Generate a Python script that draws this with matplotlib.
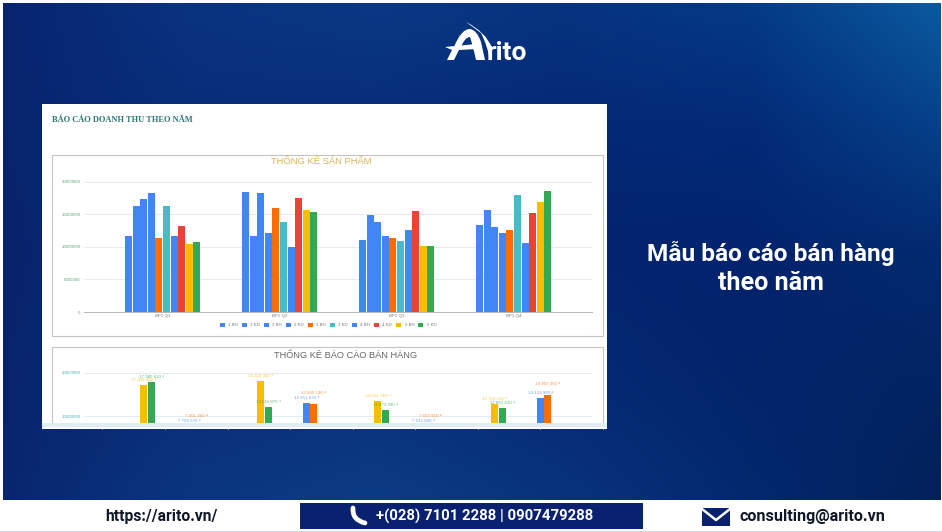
import numpy as np
import matplotlib
matplotlib.use("Agg")
import matplotlib.pyplot as plt
from matplotlib.colors import to_rgb
from matplotlib.patches import Rectangle, PathPatch, Polygon
from matplotlib.path import Path

W, H = 942, 532

# Revenue per quarter for each product series
quarters = ["BP1 Q1", "BP1 Q2", "BP1 Q3", "BP1 Q4"]
series_names = ["1 BH", "1 KD", "2 BH", "2 KD", "3 BH", "3 KD", "4 BH", "4 KD", "5 BH", "5 KD"]
series_colors = ["#4285f4", "#4285f4", "#4285f4", "#4285f4", "#ff6d01",
                 "#46bdc6", "#4285f4", "#ea4335", "#fbbc04", "#34a853"]
q1_values = [11.63, 16.22, 17.30, 18.30, 11.30, 16.30, 11.70, 13.20, 10.40, 10.70]
q2_values = [18.40, 11.70, 18.20, 12.10, 15.90, 13.80, 10.00, 17.50, 15.70, 15.40]
q3_values = [11.10, 14.90, 13.80, 11.70, 11.40, 10.90, 12.50, 15.50, 10.05, 10.05]
q4_values = [13.30, 15.60, 13.00, 12.10, 12.50, 17.90, 10.50, 15.20, 16.80, 18.50]
product_ticks = [0, 5000000, 10000000, 15000000, 20000000]

# Sales report series, one value per quarter
sales_yellow = [17209450, 18218300, 13562740, 12704120]
sales_green = [17985620, 12011870, 11473390, 11862410]
sales_blue = [7704570, 12951630, 7612840, 14123980]
sales_orange = [7451260, 12805740, 7503910, 14907350]
sales_ticks = [10000000, 20000000]

# Banner text
heading_lines = ["Mẫu báo cáo bán hàng", "theo năm"]
website = "https://arito.vn/"
phone = "+(028) 7101 2288 | 0907479288"
email = "consulting@arito.vn"

NAVY = "#0a2170"
plt.rcParams["font.family"] = ["Liberation Sans", "DejaVu Sans"]

fig = plt.figure(figsize=(W / 100, H / 100), dpi=100, facecolor="white")


def axes_px(left, top, right, bottom, **kw):
    """Axes placed by pixel edges, measured from the top-left corner."""
    return fig.add_axes([left / W, 1 - bottom / H, (right - left) / W, (bottom - top) / H], **kw)


def fitted_text(ax, x0, x1, y, s, **kw):
    """Centre a string between two x pixels, choosing the font size that spans them."""
    t = ax.text((x0 + x1) / 2, y, s, ha="center", va="center", fontsize=10, **kw)
    width = t.get_window_extent(fig.canvas.get_renderer()).width
    t.set_fontsize(10 * (x1 - x0) / width)
    return t


def smooth_gradient(colors, rows=250, cols=470):
    """Expand a coarse colour grid, whose nodes lie on the edges, into a fine image."""
    grid = np.array([[to_rgb(c) for c in row] for row in colors])
    r_nodes = np.linspace(0, 1, grid.shape[0])
    c_nodes = np.linspace(0, 1, grid.shape[1])
    r_fine = np.linspace(0, 1, rows)
    c_fine = np.linspace(0, 1, cols)
    by_col = np.stack([[np.interp(c_fine, c_nodes, row[:, k]) for row in grid] for k in range(3)], axis=-1)
    return np.stack([[np.interp(r_fine, r_nodes, by_col[:, j, k]) for j in range(cols)]
                     for k in range(3)], axis=-1).transpose(1, 0, 2)


# Full-slide layer in pixel coordinates for background and decorations
deco = axes_px(0, 0, W, H)
deco.axis("off")

grad = [["#07246f", "#0a3380", "#0a3884", "#06337f", "#043a86", "#0a5a9f"],
        ["#07246e", "#082d79", "#072c78", "#042876", "#032a77", "#054088"],
        ["#07236c", "#082a74", "#072973", "#03246f", "#02236d", "#032a70"],
        ["#08246e", "#0a2e77", "#0a317a", "#052a74", "#02246b", "#032462"],
        ["#08266f", "#0a367f", "#0b3b84", "#08337c", "#03286e", "#03215a"]]
deco.imshow(smooth_gradient(grad), extent=(3, 941, 500, 3), interpolation="bilinear", aspect="auto", zorder=0)
deco.set_xlim(0, W)
deco.set_ylim(H, 0)

# Report sheet
deco.add_patch(Rectangle((42, 104), 565, 325, fc="white", ec="none", zorder=1))
fitted_text(deco, 52, 192, 119.5, "BÁO CÁO DOANH THU THEO NĂM", family="Liberation Serif", weight="bold",
            color="#2f7577", zorder=3)
deco.add_patch(Rectangle((52, 155), 551, 181, fc="none", ec="#c4c4c4", lw=0.8, zorder=2))
deco.plot([52, 52, 603, 603], [423, 347, 347, 423], color="#c4c4c4", lw=0.8, zorder=2)
fitted_text(deco, 271, 371, 162, "THỐNG KÊ SẢN PHẨM", color="#d6b54e", zorder=3)
fitted_text(deco, 274, 418, 355.5, "THỐNG KÊ BÁO CÁO BÁN HÀNG", color="#666666", zorder=3)

# Spreadsheet row strip at the foot of the sheet
deco.add_patch(Rectangle((42, 423), 565, 3.5, fc="#e0ecf6", ec="none", zorder=2))
for x in (102, 165, 228, 290, 353, 415, 478, 540, 603):
    deco.plot([x, x], [426.5, 429], color="#ececec", lw=0.5, zorder=2)

# Grouped bars of the product chart
slot = 7.53 / 117
bar_w = 7.0 / 117
ax1 = axes_px(84, 181.5, 592, 312, facecolor="none")
ax1.set_xlim(-0.673, 3.669)
ax1.set_ylim(0, 20000000)
x_pos = np.arange(len(quarters))
for i, (name, color) in enumerate(zip(series_names, series_colors)):
    vals = np.array([q1_values[i], q2_values[i], q3_values[i], q4_values[i]]) * 1e6
    ax1.bar(x_pos + (i - 4.5) * slot, vals, bar_w, color=color, label=name, zorder=3)
ax1.set_xticks(x_pos, quarters)
ax1.set_yticks(product_ticks, [str(t) for t in product_ticks])
ax1.tick_params(axis="x", length=0, labelsize=3.2, labelcolor="#777777", pad=1.5)
ax1.tick_params(axis="y", length=0, labelsize=3.2, labelcolor="#5fa87c", pad=2.5)
ax1.grid(axis="y", color="#e6e6e6", lw=0.6, zorder=0)
for side in ("top", "right", "left"):
    ax1.spines[side].set_visible(False)
ax1.spines["bottom"].set_color("#b5b5b5")
ax1.spines["bottom"].set_linewidth(0.7)
ax1.legend(loc="center", bbox_to_anchor=(328 / W, 1 - 325 / H), bbox_transform=fig.transFigure,
           ncol=10, frameon=False, fontsize=3.2, labelcolor="#777777", handlelength=1.1, handleheight=1.1,
           columnspacing=0.87, handletextpad=0.8, borderpad=0)

# Sales chart, cut off by the bottom of the sheet
ax2 = axes_px(84, 368, 592, 423, facecolor="none")
ax2.set_xlim(-0.673, 3.669)
ax2.set_ylim((459 - 423) / 43 * 1e7, (459 - 368) / 43 * 1e7)
ax2.set_xticks([])
ax2.set_yticks(sales_ticks, [str(t) for t in sales_ticks])
ax2.tick_params(axis="y", length=0, labelsize=3.2, labelcolor="#4fb4ba", pad=2.5)
ax2.grid(axis="y", color="#dfe9ef", lw=0.6, zorder=0)
for side in ax2.spines:
    ax2.spines[side].set_visible(False)
# Orange labels sit a little higher so they clear the neighbouring blue ones
sales = [(sales_yellow, "#fbbc04", -19.0, 2.2), (sales_green, "#34a853", -11.5, 2.2),
         (sales_blue, "#4285f4", 26.7, 2.2), (sales_orange, "#ff6d01", 34.2, 6.5)]
for values, color, offset, lift in sales:
    xs = x_pos + offset / 117
    ax2.bar(xs, values, bar_w, color=color, zorder=3)
    for x, v in zip(xs, values):
        ax2.annotate(f"{v:,}".replace(",", " ") + " ₫", (x, v), xytext=(0, lift), textcoords="offset points",
                     ha="center", va="bottom", fontsize=3.2, color=color, alpha=0.75,
                     annotation_clip=False, zorder=4)

# Logo: stylised A with a swoosh, followed by the remaining letters
arch = Path([(454, 47), (461, 29), (470, 29), (477, 30), (481, 42), (485, 60), (476, 60),
             (473, 46), (470, 37), (465, 37), (461, 47), (454, 47)],
            [Path.MOVETO, Path.CURVE3, Path.CURVE3, Path.CURVE3, Path.CURVE3, Path.LINETO, Path.LINETO,
             Path.CURVE3, Path.CURVE3, Path.CURVE3, Path.CURVE3, Path.CLOSEPOLY])
deco.add_patch(PathPatch(arch, fc="white", ec="none", zorder=3))
deco.add_patch(Polygon([(445, 47), (476, 44), (477, 49), (459, 50), (454, 60), (447, 60), (452, 50)],
                       fc="white", ec="none", zorder=3))
swoosh = Path([(466, 22), (486, 32), (492, 48), (490, 61), (488, 47), (481, 33), (466, 22)],
              [Path.MOVETO, Path.CURVE3, Path.CURVE3, Path.LINETO, Path.CURVE3, Path.CURVE3, Path.CLOSEPOLY])
deco.add_patch(PathPatch(swoosh, fc="white", ec="none", zorder=3))
deco.text(487, 60, "rito", family="Roboto", weight="bold", fontsize=19, color="white", va="baseline", zorder=3)

# Heading on the right
fitted_text(deco, 647, 895, 253.5, heading_lines[0], family="Roboto", weight="bold", color="white", zorder=3)
fitted_text(deco, 718, 824, 282.5, heading_lines[1], family="Roboto", weight="bold", color="white", zorder=3)

# Footer band
deco.add_patch(Rectangle((0, 500), W, 31, fc="white", ec="none", zorder=2))
deco.plot([0, W], [530.5, 530.5], color="#cfd6e4", lw=0.8, zorder=3)
deco.add_patch(Rectangle((300, 503), 343, 26, fc=NAVY, ec="none", zorder=3))
fitted_text(deco, 105, 217, 516, website, family="Roboto", weight="bold", color="#101828", zorder=4)
fitted_text(deco, 377, 593, 516, phone, family="Roboto", weight="bold", color="white", zorder=4)
fitted_text(deco, 739, 885, 516, email, family="Roboto", weight="bold", color="#101828", zorder=4)

# Handset icon
handset = Path([(353, 508), (352, 520), (365, 523)], [Path.MOVETO, Path.CURVE3, Path.CURVE3])
deco.add_patch(PathPatch(handset, fc="none", ec="white", lw=3.4, capstyle="round", zorder=4))

# Envelope icon
deco.add_patch(Rectangle((702, 508), 28, 18, fc=NAVY, ec="none", zorder=3))
deco.plot([702, 716, 730], [509, 520, 509], color="white", lw=1.8, zorder=4)

fig.savefig("out.png", dpi=100, facecolor="white")
